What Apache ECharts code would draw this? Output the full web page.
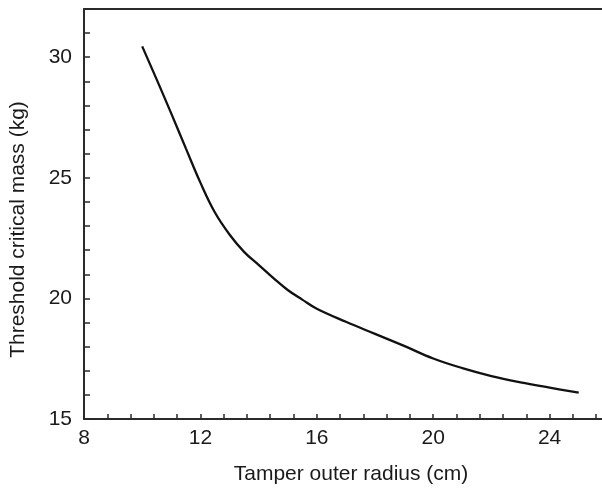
<!DOCTYPE html>
<html>
<head>
<meta charset="utf-8">
<script src="https://cdn.jsdelivr.net/npm/echarts@6/dist/echarts.min.js"></script>
<style>
html,body{margin:0;padding:0;background:#fff;}
#chart{width:602px;height:490px;}
</style>
</head>
<body>
<div id="chart"></div>
<script>
const radius = [10, 10.5, 11, 11.5, 12, 12.5, 13, 13.5, 14, 14.5, 15, 15.5, 16, 17, 18, 19, 20, 21, 22, 23, 24, 25];
const criticalMass = [30.45, 29.07, 27.66, 26.22, 24.80, 23.56, 22.65, 21.93, 21.39, 20.85, 20.35, 19.95, 19.57, 19.03, 18.53, 18.03, 17.51, 17.11, 16.78, 16.52, 16.30, 16.09];
const xLabelValues = [8, 12, 16, 20, 24];
const yLabelValues = [15, 20, 25, 30];
const xTitle = 'Tamper outer radius (cm)';
const yTitle = 'Threshold critical mass (kg)';

const FONT = '"Liberation Sans", Arial, Helvetica, sans-serif';
const AX = '#2a2a2a';
const near = (v, list) => list.some(t => Math.abs(v - t) < 1e-6);

const chart = echarts.init(document.getElementById('chart'), null, {renderer: 'canvas'});
chart.setOption({
  animation: false,
  backgroundColor: '#ffffff',
  grid: {left: 83.5, right: 0, top: 9, bottom: 70, containLabel: false},
  xAxis: [{
    type: 'value', min: 8, max: 25.8, interval: 0.8,
    position: 'bottom',
    axisLine: {show: true, lineStyle: {color: AX, width: 2}},
    axisTick: {show: true, inside: true, length: 5, lineStyle: {color: AX, width: 1.5}},
    axisLabel: {
      margin: 9, color: '#1a1a1a', fontSize: 21, fontFamily: FONT,
      showMaxLabel: false,
      formatter: v => near(v, xLabelValues) ? String(Math.round(v)) : ''
    },
    splitLine: {show: false},
    name: xTitle, nameLocation: 'middle', nameGap: 45,
    nameTextStyle: {color: '#1a1a1a', fontSize: 21, fontFamily: FONT, padding: [0, 0, 0, 16]}
  }, {
    type: 'value', min: 8, max: 25.8, position: 'top',
    axisLine: {show: true, lineStyle: {color: AX, width: 2}},
    axisTick: {show: false}, axisLabel: {show: false}, splitLine: {show: false}
  }],
  yAxis: {
    type: 'value', min: 15, max: 32, interval: 1,
    axisLine: {show: true, lineStyle: {color: AX, width: 2}},
    axisTick: {show: true, inside: true, length: 6, lineStyle: {color: AX, width: 1.5}},
    axisLabel: {
      margin: 12, color: '#1a1a1a', fontSize: 21, fontFamily: FONT,
      formatter: v => near(v, yLabelValues) ? String(Math.round(v)) : ''
    },
    splitLine: {show: false},
    name: yTitle, nameLocation: 'middle', nameGap: 55,
    nameTextStyle: {color: '#1a1a1a', fontSize: 21, fontFamily: FONT, padding: [0, 31, 0, 0]}
  },
  series: [{
    type: 'line',
    data: radius.map((r, i) => [r, criticalMass[i]]),
    smooth: 0.4,
    showSymbol: false,
    lineStyle: {color: '#111', width: 2.3}
  }]
});
</script>
</body>
</html>
